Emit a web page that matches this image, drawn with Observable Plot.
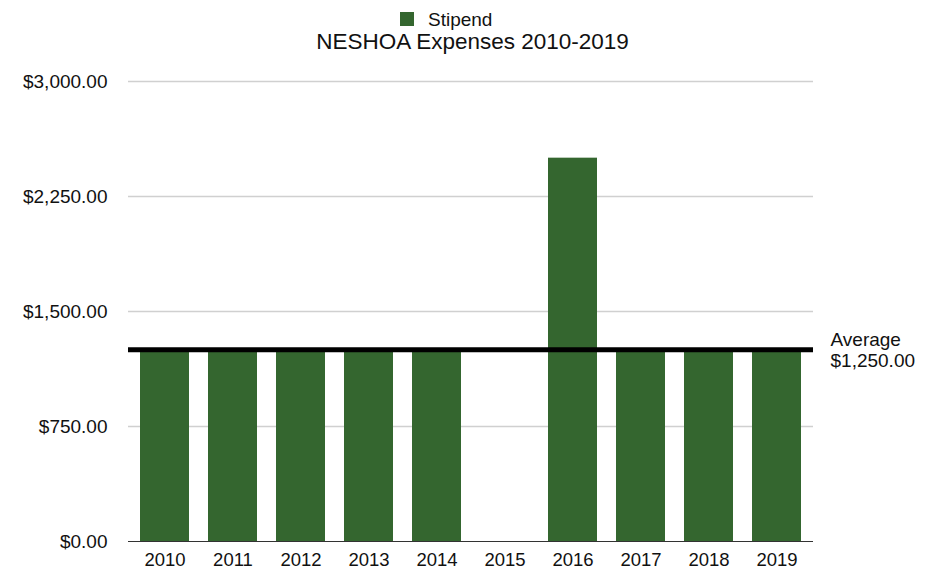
<!DOCTYPE html>
<html>
<head>
<meta charset="utf-8">
<script src="https://cdn.jsdelivr.net/npm/d3@7"></script>
<script src="https://cdn.jsdelivr.net/npm/@observablehq/plot@0.6"></script>
<style>
  body { margin: 0; background: #fff; font-family: "Liberation Sans", Arial, Helvetica, sans-serif; }
  #wrap { width: 935px; position: relative; }
  #header { height: 60px; position: relative; }
  #legend { position: absolute; top: 10px; left: 400px; font-size: 19px; line-height: 19px; color: #111; white-space: nowrap; }
  #legend .sw { display: inline-block; width: 14px; height: 14px; background: #34662f; vertical-align: baseline; margin-right: 14px; }
  #title { position: absolute; top: 31px; left: 5px; width: 935px; text-align: center; font-size: 22.5px; line-height: 22.5px; color: #111; white-space: nowrap; }
  svg { display: block; }
</style>
</head>
<body>
<div id="wrap">
  <div id="header">
    <div id="legend"><span class="sw"></span>Stipend</div>
    <div id="title">NESHOA Expenses 2010-2019</div>
  </div>
  <div id="chart"></div>
</div>
<script>
const years = ["2010","2011","2012","2013","2014","2015","2016","2017","2018","2019"];
const stipend = [1250,1250,1250,1250,1250,0,2500,1250,1250,1250];
const yTicks = [0,750,1500,2250,3000];
const barColor = "#34662f";

const data = years.map((y, i) => ({year: y, value: stipend[i]}));
const avg = d3.mean(stipend);
const money = d3.format("$,.2f");

const chart = Plot.plot({
  width: 935,
  height: 512,
  marginTop: 21,
  marginBottom: 31,
  marginLeft: 128,
  marginRight: 122,
  style: { fontFamily: "Liberation Sans, Arial, Helvetica, sans-serif", fontSize: "19px", color: "#111", background: "#fff" },
  x: { domain: years, paddingInner: 0.285, paddingOuter: 0.16, label: null },
  y: { domain: [0, 3000], ticks: yTicks, tickFormat: money, label: null },
  marks: [
    Plot.gridY(yTicks.filter(d => d > 0), { stroke: "#d0d0d0", strokeOpacity: 1, strokeWidth: 1.5 }),
    Plot.axisY({ ticks: yTicks, tickFormat: money, tickSize: 0, tickPadding: 21, fontSize: 19, label: null }),
    Plot.axisX({ tickSize: 0, tickPadding: 11, fontSize: 18.5, label: null }),
    Plot.barY(data, { x: "year", y: "value", fill: barColor }),
    Plot.ruleY([0], { stroke: "#333", strokeWidth: 1.2 }),
    Plot.ruleY([avg], { stroke: "#000", strokeWidth: 5 }),
    Plot.text([avg], { y: d => d, frameAnchor: "right", dx: 17, textAnchor: "start", lineAnchor: "middle", lineHeight: 1.1, fontSize: 19, fill: "#111",
      text: d => "Average\n" + money(d) })
  ]
});
document.getElementById("chart").appendChild(chart);
</script>
</body>
</html>
